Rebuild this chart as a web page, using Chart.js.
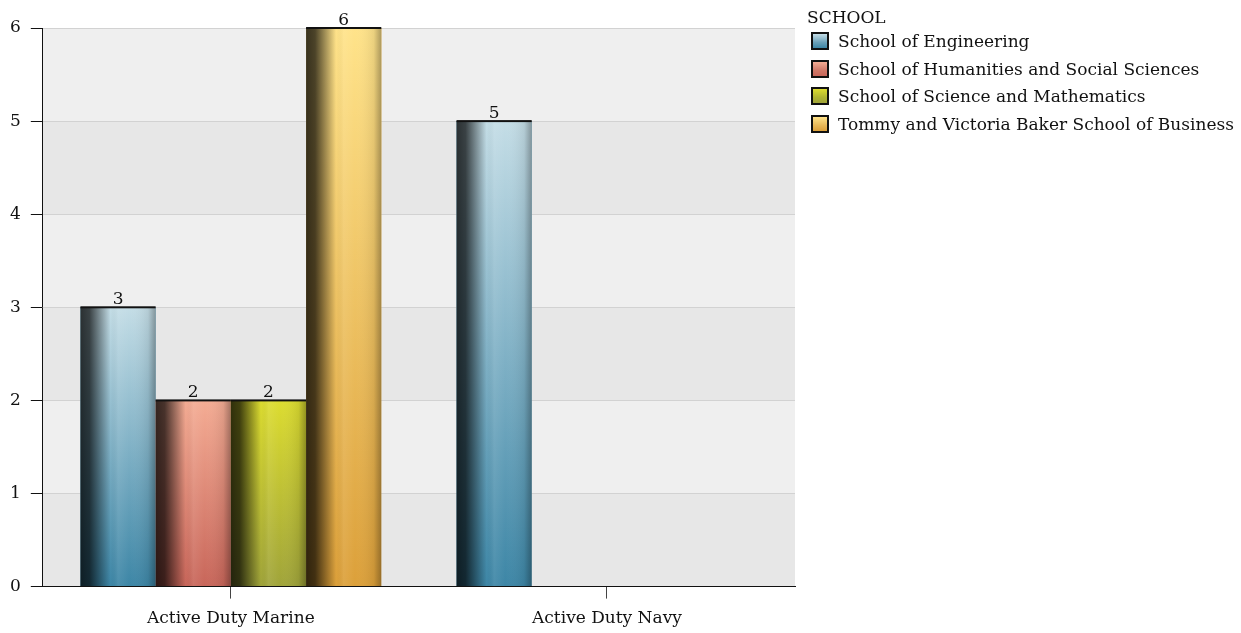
<!DOCTYPE html>
<html>
<head>
<meta charset="utf-8">
<script src="https://cdn.jsdelivr.net/npm/chart.js@4/dist/chart.umd.min.js"></script>
<style>
  html, body { margin: 0; padding: 0; background: #fff; }
  #wrap { width: 1241px; height: 633px; position: relative; }
  #legenda { position: absolute; left: 807px; top: 6px; font-family: "DejaVu Serif", serif; font-size: 17px; color: #111; }
  #legenda .titulo { height: 22px; line-height: 22px; }
  #legenda .item { height: 27.5px; line-height: 27.5px; white-space: nowrap; }
  #legenda .caixa { display: inline-block; width: 14px; height: 14px; border: 2px solid #111; vertical-align: -3px; margin: 0 9px 0 4px; }
</style>
</head>
<body>
<div id="wrap"><canvas id="grafico"></canvas><div id="legenda"></div></div>
<script>
// dados do gráfico
const categorias = ['Active Duty Marine', 'Active Duty Navy'];
const escolas = [
    'School of Engineering',
    'School of Humanities and Social Sciences',
    'School of Science and Mathematics',
    'Tommy and Victoria Baker School of Business'
];
const valoresEngenharia = [3, 5];
const valoresHumanidades = [2, null];
const valoresCiencias = [2, null];
const valoresNegocios = [6, null];
const marcasEixoY = [0, 1, 2, 3, 4, 5, 6];

// cores: base (embaixo), topo (clara) e amostra da legenda
const coresBase = ['#3d86a6', '#c8665a', '#a0a43a', '#dca03a'];
const coresTopo = ['#c4dde6', '#f4ac94', '#dcdc30', '#ffe38a'];
const coresLegenda = ['#6aa0b8', '#d07868', '#b0b432', '#e8b858'];

const fonte = '"DejaVu Serif", serif';
const tamanhoFonte = 17;

// faixas alternadas no fundo
const pluginFaixas = {
    id: 'faixas',
    beforeDraw(chart) {
        const { ctx, chartArea, scales } = chart;
        const y = scales.y;
        ctx.save();
        for (let i = 0; i < marcasEixoY.length - 1; i++) {
            const y0 = y.getPixelForValue(marcasEixoY[i]);
            const y1 = y.getPixelForValue(marcasEixoY[i + 1]);
            ctx.fillStyle = i % 2 === 0 ? '#e7e7e7' : '#efefef';
            ctx.fillRect(chartArea.left, y1, chartArea.right - chartArea.left, y0 - y1);
        }
        ctx.restore();
    }
};

// sombreamento das barras + rótulos de valor
const pluginSombra = {
    id: 'sombra',
    afterDatasetsDraw(chart) {
        const ctx = chart.ctx;
        ctx.save();
        chart.data.datasets.forEach((ds, di) => {
            const meta = chart.getDatasetMeta(di);
            meta.data.forEach((el, i) => {
                const v = ds.data[i];
                if (v === null || v === undefined) return;
                const p = el.getProps(['x', 'y', 'base', 'width'], true);
                const left = p.x - p.width / 2;
                const top = p.y;
                const h = p.base - p.y;

                // gradiente vertical: cor clara no topo
                const gv = ctx.createLinearGradient(0, top, 0, p.base);
                gv.addColorStop(0, coresTopo[di]);
                gv.addColorStop(1, coresTopo[di] + '00');
                ctx.fillStyle = gv;
                ctx.fillRect(left, top, p.width, h);

                // gradiente horizontal: lado esquerdo escuro
                const gh = ctx.createLinearGradient(left, 0, left + p.width, 0);
                gh.addColorStop(0, 'rgba(0,0,0,0.78)');
                gh.addColorStop(0.12, 'rgba(0,0,0,0.7)');
                gh.addColorStop(0.4, 'rgba(0,0,0,0)');
                gh.addColorStop(0.5, 'rgba(255,255,255,0.08)');
                gh.addColorStop(0.65, 'rgba(255,255,255,0)');
                gh.addColorStop(0.9, 'rgba(0,0,0,0.08)');
                gh.addColorStop(1, 'rgba(0,0,0,0.32)');
                ctx.fillStyle = gh;
                ctx.fillRect(left, top, p.width, h);

                // linha preta no topo
                ctx.fillStyle = '#111';
                ctx.fillRect(left, top - 1, p.width, 2);

                // valor
                ctx.font = tamanhoFonte + 'px ' + fonte;
                ctx.textAlign = 'center';
                ctx.textBaseline = 'bottom';
                ctx.fillText(String(v), p.x, top + 1);
            });
        });
        ctx.restore();
    }
};

const series = [valoresEngenharia, valoresHumanidades, valoresCiencias, valoresNegocios];

new Chart(document.getElementById('grafico'), {
    type: 'bar',
    data: {
        labels: categorias,
        datasets: series.map((dados, i) => ({
            label: escolas[i],
            data: dados,
            backgroundColor: coresBase[i],
            borderWidth: 0,
            categoryPercentage: 0.8,
            barPercentage: 1.0
        }))
    },
    options: {
        responsive: true,
        maintainAspectRatio: false,
        animation: false,
        layout: { padding: { top: 28, left: 0, right: 446, bottom: -6 } },
        scales: {
            y: {
                min: 0,
                max: 6,
                ticks: { stepSize: 1, color: '#111', font: { family: fonte, size: tamanhoFonte }, padding: 10 },
                grid: { color: '#d2d2d2', tickColor: '#111', tickLength: 12 },
                border: { display: true, color: '#111', width: 1 }
            },
            x: {
                ticks: { color: '#111', font: { family: fonte, size: tamanhoFonte }, padding: 10 },
                grid: { drawOnChartArea: false, offset: false, tickColor: '#444', tickLength: 12 },
                border: { display: true, color: '#111', width: 1 }
            }
        },
        plugins: {
            tooltip: { enabled: false },
            legend: { display: false }
        }
    },
    plugins: [pluginFaixas, pluginSombra]
});

// legenda em HTML
const legenda = document.getElementById('legenda');
let html = '<div class="titulo">SCHOOL</div>';
escolas.forEach((nome, i) => {
    html += '<div class="item"><span class="caixa" style="background:linear-gradient(' +
        coresTopo[i] + ',' + coresLegenda[i] + ' 60%,' + coresBase[i] + ')"></span>' + nome + '</div>';
});
legenda.innerHTML = html;
</script>
</body>
</html>
